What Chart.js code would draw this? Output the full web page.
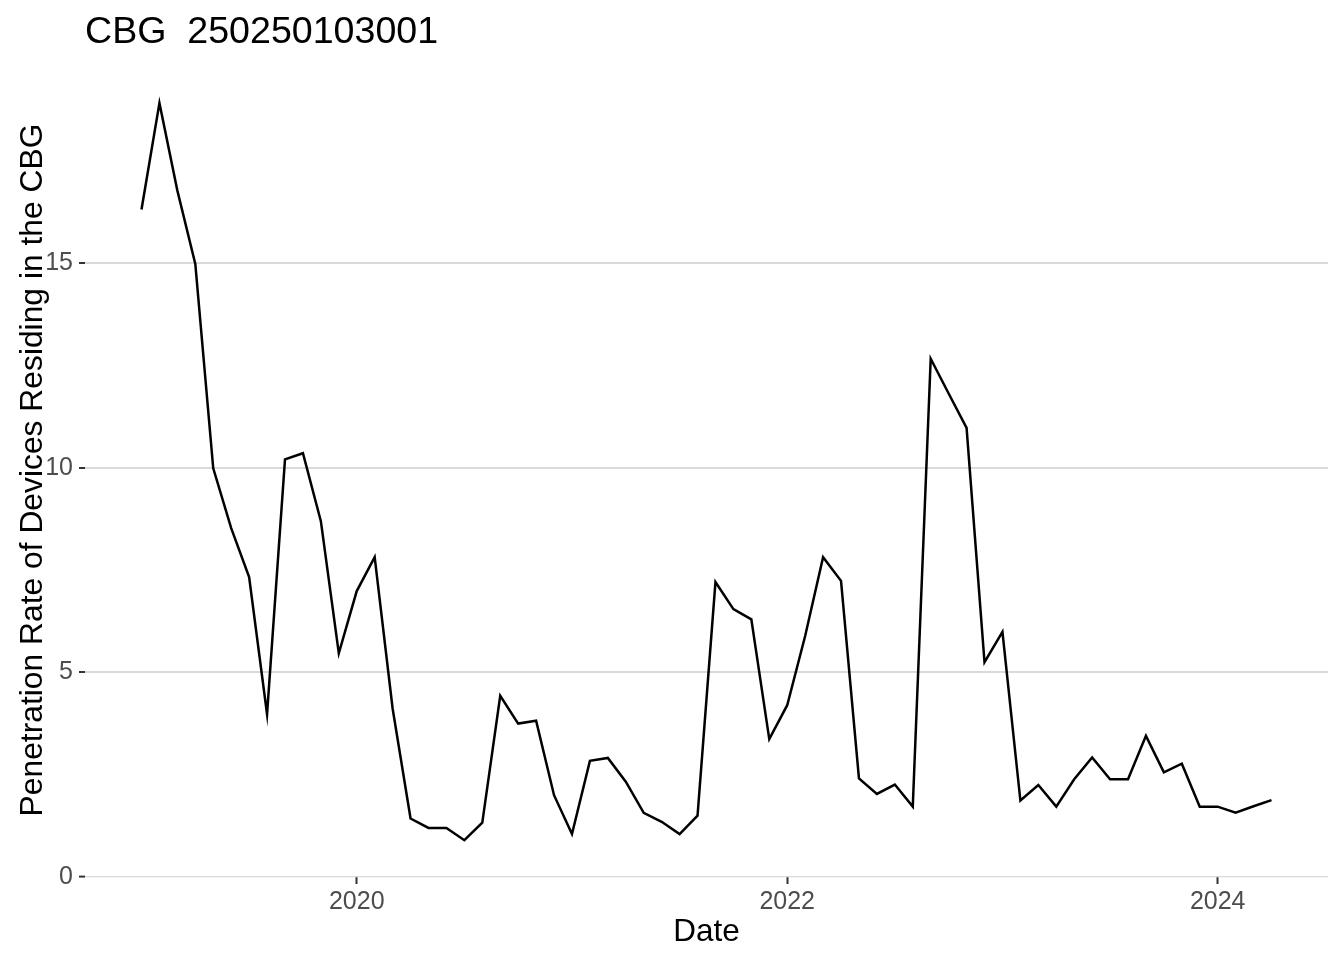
<!DOCTYPE html>
<html>
<head>
<meta charset="utf-8">
<script src="https://cdn.jsdelivr.net/npm/chart.js@4"></script>
<style>
  html, body { margin: 0; padding: 0; background: #fff; }
  #wrap { width: 1344px; height: 960px; }
</style>
</head>
<body>
<div id="wrap"><canvas id="chart" width="1344" height="960"></canvas></div>
<script>
// Monthly series, Jan 2019 .. Apr 2024
const startYear = 2019;
const startMonth = 0;
const rates = [
    16.32, 18.92, 16.78, 14.99, 9.99, 8.53, 7.33, 3.98, 10.21, 10.36, 8.70, 5.47,
    6.99, 7.82, 4.12, 1.43, 1.20, 1.20, 0.90, 1.33, 4.43, 3.75, 3.82, 2.00,
    1.05, 2.84, 2.91, 2.33, 1.57, 1.35, 1.05, 1.50, 7.21, 6.55, 6.30, 3.37,
    4.20, 5.89, 7.82, 7.24, 2.41, 2.03, 2.26, 1.72, 12.67, 11.82, 10.98, 5.25,
    5.99, 1.87, 2.25, 1.72, 2.39, 2.92, 2.39, 2.39, 3.45, 2.56, 2.77, 1.72,
    1.72, 1.57, 1.73, 1.88
];
const xTicks = [2020, 2022, 2024];
const yTicks = [0, 5, 10, 15];

const chartTitle = 'CBG  250250103001';
const xTitle = 'Date';
const yTitle = 'Penetration Rate of Devices Residing in the CBG';

// decimal year for each month
const points = rates.map((v, i) => ({
    x: startYear + (startMonth + i) / 12,
    y: v
}));

const xMin = points[0].x;
const xMax = points[points.length - 1].x;
const xPad = (xMax - xMin) * 0.05;

const FONT = '"Liberation Sans", Arial, Helvetica, sans-serif';

// plot title at the panel's left edge
const titlePlugin = {
    id: 'panelTitle',
    afterDraw(chart) {
        const ctx = chart.ctx;
        ctx.save();
        ctx.font = '37.6px ' + FONT;
        ctx.fillStyle = '#000';
        ctx.textBaseline = 'alphabetic';
        ctx.textAlign = 'left';
        ctx.fillText(chartTitle, chart.chartArea.left, 43);
        ctx.restore();
    }
};

new Chart(document.getElementById('chart'), {
    type: 'line',
    data: {
        datasets: [{
            data: points,
            borderColor: '#000',
            borderWidth: 2.5,
            pointRadius: 0,
            tension: 0,
            fill: false
        }]
    },
    options: {
        responsive: false,
        animation: false,
        layout: { padding: { top: 63, right: 16, bottom: 0, left: 1 } },
        plugins: {
            legend: { display: false },
            tooltip: { enabled: false }
        },
        scales: {
            x: {
                type: 'linear',
                min: xMin - xPad,
                max: xMax + xPad,
                afterBuildTicks: s => { s.ticks = xTicks.map(v => ({ value: v })); },
                afterFit: s => { s.height = 83; },
                border: { display: false },
                grid: {
                    drawOnChartArea: false,
                    drawTicks: true,
                    tickLength: 7,
                    tickColor: '#333',
                    tickWidth: 2
                },
                ticks: {
                    padding: 3,
                    color: '#4d4d4d',
                    font: { family: FONT, size: 25 },
                    maxRotation: 0,
                    callback: v => String(v)
                },
                title: {
                    display: true,
                    text: xTitle,
                    color: '#000',
                    font: { family: FONT, size: 31.5 },
                    padding: { top: 0, bottom: 9 }
                }
            },
            y: {
                min: 0,
                max: 19.9,
                afterBuildTicks: s => { s.ticks = yTicks.map(v => ({ value: v })); },
                afterFit: s => { s.width = 84; },
                border: { display: false },
                grid: {
                    color: '#d9d9d9',
                    lineWidth: c => (c.tick && c.tick.value === 0 ? 1.2 : 2),
                    drawTicks: true,
                    tickLength: 6,
                    tickColor: '#333',
                    tickWidth: 2
                },
                ticks: {
                    padding: 6,
                    color: '#4d4d4d',
                    font: { family: FONT, size: 25 },
                    callback: v => String(v)
                },
                title: {
                    display: true,
                    text: yTitle,
                    color: '#000',
                    font: { family: FONT, size: 31.8 },
                    padding: { top: 13, bottom: 0 }
                }
            }
        }
    },
    plugins: [titlePlugin]
});
</script>
</body>
</html>
